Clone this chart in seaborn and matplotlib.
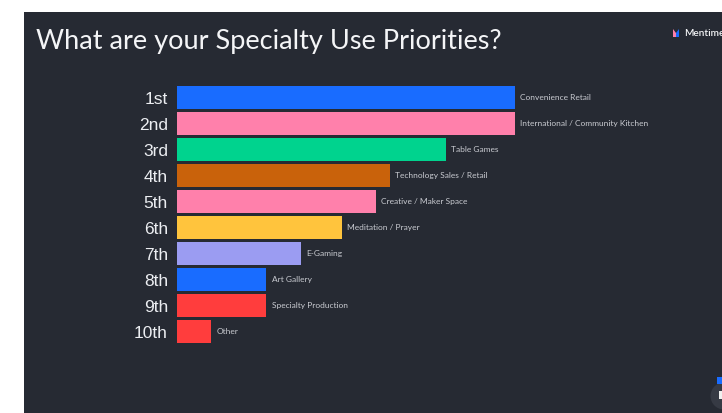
import matplotlib
matplotlib.use("Agg")
import matplotlib.pyplot as plt
from matplotlib.patches import Rectangle, Ellipse, Polygon
import seaborn as sns
import pandas as pd

# Ranking results
ranks = ["1st", "2nd", "3rd", "4th", "5th", "6th", "7th", "8th", "9th", "10th"]
options = [
    "Convenience Retail",
    "International / Community Kitchen",
    "Table Games",
    "Technology Sales / Retail",
    "Creative / Maker Space",
    "Meditation / Prayer",
    "E-Gaming",
    "Art Gallery",
    "Specialty Production",
    "Other",
]
scores = [10.0, 10.0, 7.96, 6.3, 5.89, 4.88, 3.67, 2.65, 2.65, 1.02]
bar_colors = [
    "#196cff", "#ff80ab", "#00d38e", "#c9620b", "#ff80ab",
    "#ffc43d", "#9b9cf2", "#196cff", "#ff3d3d", "#ff3d3d",
]

BG = "#262a33"
W, H = 722, 413

sns.set_theme(style="white")
plt.rcParams["font.family"] = ["Lato", "DejaVu Sans"]

fig = plt.figure(figsize=(W / 100, H / 100), dpi=100)
fig.patch.set_facecolor("white")

# dark slide area
fig.patches.append(Rectangle((24 / W, 0), 1 - 24 / W, 1 - 12 / H,
                             transform=fig.transFigure, facecolor=BG,
                             edgecolor="none", zorder=-5))

# axes placed so rows sit 26 px apart starting at y=97.5
ax_left, ax_right = 177, 700
ax_top, ax_bot = 84.5, 344.5
ax = fig.add_axes([ax_left / W, 1 - ax_bot / H,
                   (ax_right - ax_left) / W, (ax_bot - ax_top) / H])
ax.set_facecolor("none")
ax.set_zorder(2)

df = pd.DataFrame({"rank": ranks, "score": scores, "option": options})
sns.barplot(data=df, x="score", y="rank", hue="rank", palette=bar_colors,
            width=0.885, legend=False, ax=ax, saturation=1, edgecolor="none")

full_px = 337.7
ax.set_xlim(0, 10 * (ax_right - ax_left) / full_px)
ax.set_ylim(len(ranks) - 0.5, -0.5)

for i, (s, label) in enumerate(zip(scores, options)):
    ax.annotate(label, xy=(s, i), xytext=(3.8, 0), textcoords="offset points",
                va="center", ha="left", fontsize=6.0, color="#c9cbd1")

ax.set_xlabel("")
ax.set_ylabel("")
ax.set_xticks([])
ax.tick_params(axis="y", length=0, pad=6.5)
for t in ax.get_yticklabels():
    t.set_fontsize(12.5)
    t.set_color("#eceef2")
    t.set_fontfamily(["Liberation Sans", "DejaVu Sans"])
for sp in ax.spines.values():
    sp.set_visible(False)

# title
fig.text(36 / W, 1 - 41 / H, "What are your Specialty Use Priorities?",
         ha="left", va="center", fontsize=19.5, color="#f4f5f7",
         fontfamily=["Lato", "DejaVu Sans"])

# brand mark, top right
fig.patches.append(Polygon([[673 / W, 1 - 37 / H], [673 / W, 1 - 29 / H],
                            [676 / W, 1 - 33 / H], [676 / W, 1 - 37 / H]],
                           closed=True, transform=fig.transFigure,
                           facecolor="#ff80ab", edgecolor="none"))
fig.patches.append(Polygon([[676 / W, 1 - 33 / H], [679 / W, 1 - 29 / H],
                            [679 / W, 1 - 37 / H], [676 / W, 1 - 37 / H]],
                           closed=True, transform=fig.transFigure,
                           facecolor="#196cff", edgecolor="none"))
fig.text(684 / W, 1 - 33 / H, "Mentimeter", ha="left", va="center",
         fontsize=7.2, color="#f4f5f7", fontweight="semibold")

# corner controls, bottom right
fig.patches.append(Ellipse((724 / W, 1 - 396 / H), 27 / W, 27 / H,
                           transform=fig.transFigure, facecolor="#363a44",
                           edgecolor="none"))
fig.patches.append(Rectangle((717 / W, 1 - 384 / H), 6 / W, 7 / H,
                             transform=fig.transFigure, facecolor="#196cff",
                             edgecolor="none"))
fig.patches.append(Rectangle((719 / W, 1 - 399 / H), 4 / W, 8 / H,
                             transform=fig.transFigure, facecolor="#f0f0f0",
                             edgecolor="none"))

fig.savefig("out.png", dpi=100, facecolor=fig.get_facecolor())
